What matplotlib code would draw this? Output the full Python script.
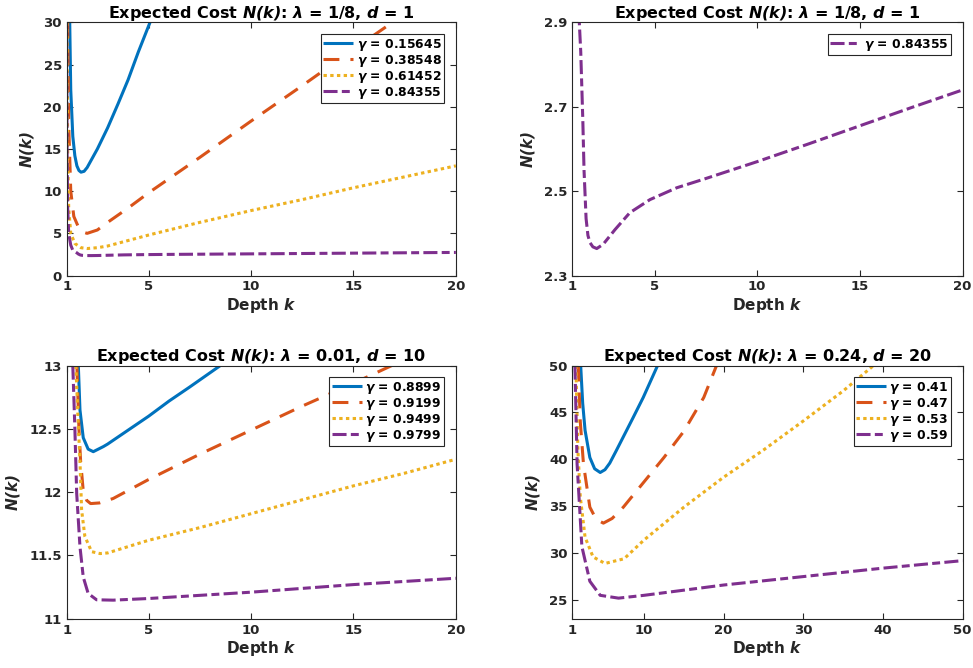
import matplotlib
matplotlib.use("Agg")
import matplotlib.pyplot as plt

plt.rcParams['font.family'] = ['DejaVu Sans']
plt.rcParams['font.weight'] = 'bold'
plt.rcParams['mathtext.fontset'] = 'dejavusans'

# panel A / B: lambda = 1/8, d = 1
a_gammas = ['0.15645', '0.38548', '0.61452', '0.84355']
a_k1 = [1.15, 1.2, 1.3, 1.4, 1.5, 1.6, 1.7, 1.85, 2.0, 2.5, 3.0, 3.5, 4.0, 4.5, 5.07, 5.5]
a_n1 = [30, 22, 16.5, 14.2, 13.0, 12.45, 12.25, 12.35, 12.8, 15.0, 17.5, 20.3, 23.2, 26.5, 30, 33]
a_k2 = [1.05, 1.1, 1.2, 1.35, 1.6, 1.8, 2.0, 2.5, 3.0, 4.0, 5.0, 7.5, 10, 12.5, 15, 17.5, 20]
a_n2 = [30, 18, 10, 7.0, 5.6, 5.15, 5.0, 5.4, 6.3, 8.0, 9.8, 14.0, 18.3, 22.5, 26.8, 31.0, 33.0]
a_k3 = [1.02, 1.05, 1.1, 1.2, 1.4, 1.7, 2.0, 2.5, 3.0, 5.0, 7.5, 10, 12.5, 15, 17.5, 20]
a_n3 = [30, 15, 8, 5.0, 3.8, 3.3, 3.2, 3.3, 3.5, 4.8, 6.3, 7.7, 9.0, 10.4, 11.7, 13.0]
a_k4 = [1.0, 1.02, 1.05, 1.1, 1.2, 1.3, 1.34, 1.41, 1.51, 1.57, 1.67, 1.76, 1.86, 2.0, 2.19,
        2.5, 3.08, 3.8, 4.78, 6.08, 7.5, 10, 12.5, 15, 17.5, 20]
a_n4 = [30, 15, 8, 5, 3.6, 3.0, 2.9, 2.83, 2.67, 2.55, 2.435, 2.395, 2.378, 2.368, 2.364,
        2.374, 2.409, 2.449, 2.48, 2.508, 2.53, 2.57, 2.612, 2.655, 2.698, 2.74]

# panel C: lambda = 0.01, d = 10
c_gammas = ['0.8899', '0.9199', '0.9499', '0.9799']
c_k1 = [1.57, 1.65, 1.81, 2.05, 2.3, 2.79, 3.0, 4.0, 5.0, 6.0, 7.0, 8.5, 9.0]
c_n1 = [13.0, 12.65, 12.43, 12.34, 12.32, 12.36, 12.38, 12.49, 12.6, 12.72, 12.83, 13.0, 13.06]
c_k2 = [1.5, 1.55, 1.6, 1.68, 1.81, 1.98, 2.17, 2.6, 3.27, 5.0, 7.5, 10, 12.5, 15, 17, 20]
c_n2 = [13.0, 12.75, 12.5, 12.25, 12.01, 11.935, 11.91, 11.915, 11.95, 12.1, 12.3, 12.49, 12.68, 12.86, 13.01, 13.22]
c_k3 = [1.45, 1.55, 1.65, 1.73, 1.89, 2.22, 2.63, 3.0, 5.0, 7.5, 10, 12.5, 15, 17.5, 20]
c_n3 = [13.0, 12.6, 12.25, 11.86, 11.65, 11.53, 11.515, 11.52, 11.62, 11.72, 11.83, 11.94, 12.05, 12.15, 12.26]
c_k4 = [1.3, 1.4, 1.49, 1.65, 1.81, 2.05, 2.46, 3.27, 5.0, 7.5, 10, 12.5, 15, 17.5, 20]
c_n4 = [13.0, 12.51, 11.99, 11.57, 11.33, 11.2, 11.15, 11.147, 11.16, 11.185, 11.21, 11.24, 11.27, 11.295, 11.32]

# panel D: lambda = 0.24, d = 20
d_gammas = ['0.41', '0.47', '0.53', '0.59']
d_k1 = [2.05, 2.3, 2.6, 3.2, 3.8, 4.5, 5.1, 5.7, 6.5, 7.4, 8.6, 9.9, 11.7, 12.2]
d_n1 = [50, 46, 43.1, 40.2, 39.0, 38.6, 38.9, 39.6, 40.9, 42.4, 44.4, 46.6, 50, 51]
d_k2 = [1.75, 2.0, 2.4, 3.2, 4.0, 4.9, 6.0, 7.4, 10, 12.5, 15, 17.5, 19.1, 20]
d_n2 = [50, 44, 39.5, 34.9, 33.6, 33.2, 33.7, 34.9, 37.6, 40.2, 43.0, 46.6, 50, 51.5]
d_k3 = [1.45, 1.7, 2.0, 2.6, 3.6, 5.1, 7.5, 10, 15, 20, 25, 30, 35, 38.8, 40]
d_n3 = [50, 41, 36, 31.7, 29.6, 28.9, 29.4, 31.4, 34.9, 38.1, 41.0, 44.1, 47.3, 50, 50.8]
d_k4 = [1.33, 1.6, 2.2, 3.2, 4.5, 6.8, 10, 20, 30, 40, 50]
d_n4 = [50, 39.5, 30.7, 27.0, 25.5, 25.2, 25.5, 26.6, 27.5, 28.4, 29.2]

colors = ['#0072BD', '#D95319', '#EDB120', '#7E2F8E']
dashes = [None, (5.2, 3.6), (1.1, 1.1), (4.6, 1.4, 2.6, 1.4)]
dark = '#262626'
lw = 2.2


def draw(ax, k, n, i):
    l, = ax.plot(k, n, color=colors[i], lw=lw, solid_capstyle='butt', dash_capstyle='butt')
    if dashes[i] is not None:
        l.set_dashes(dashes[i])
    return l


def style_axes(ax, title, xlim, xticks, ylim, yticks, yticklabels=None):
    ax.set_xlim(xlim)
    ax.set_ylim(ylim)
    ax.set_xticks(xticks)
    ax.set_yticks(yticks)
    if yticklabels is not None:
        ax.set_yticklabels(yticklabels)
    ax.tick_params(direction='in', top=True, right=True, labelsize=9.5,
                   colors=dark, length=4, width=0.8)
    for lab in ax.get_xticklabels() + ax.get_yticklabels():
        lab.set_fontweight('bold')
    for s in ax.spines.values():
        s.set_color(dark)
        s.set_linewidth(0.8)
    ax.set_xlabel(r'Depth $\mathbfit{k}$', fontsize=11, fontweight='bold', color=dark, labelpad=2)
    ax.set_ylabel(r'$\mathbfit{N(k)}$', fontsize=11, color=dark, labelpad=5)
    ax.set_title(title, fontsize=11.5, fontweight='bold', pad=3)


def add_legend(ax, lines, labels):
    leg = ax.legend(lines, labels, loc='upper right', fontsize=8.9, frameon=True,
                    fancybox=False, framealpha=1, edgecolor=dark, handlelength=2.4,
                    borderaxespad=0.95, labelspacing=0.0, borderpad=0.2, handletextpad=0.3)
    leg.get_frame().set_linewidth(0.8)
    for t in leg.get_texts():
        t.set_fontweight('bold')


fig = plt.figure(figsize=(9.73, 6.68), dpi=100)
ax1 = fig.add_axes([0.0685, 0.5875, 0.4, 0.379])
ax2 = fig.add_axes([0.5882, 0.5875, 0.4012, 0.379])
ax3 = fig.add_axes([0.0685, 0.0737, 0.4, 0.379])
ax4 = fig.add_axes([0.5882, 0.0737, 0.4012, 0.379])

lines = [draw(ax1, k, n, i) for i, (k, n) in
         enumerate(zip([a_k1, a_k2, a_k3, a_k4], [a_n1, a_n2, a_n3, a_n4]))]
add_legend(ax1, lines, [r'$\gamma$ = ' + g for g in a_gammas])
style_axes(ax1, r'Expected Cost $\mathbfit{N(k)}$: $\lambda$ = 1/8, $\mathbfit{d}$ = 1',
           (1, 20), [1, 5, 10, 15, 20], (0, 30), [0, 5, 10, 15, 20, 25, 30])

l = draw(ax2, a_k4, a_n4, 3)
add_legend(ax2, [l], [r'$\gamma$ = ' + a_gammas[3]])
style_axes(ax2, r'Expected Cost $\mathbfit{N(k)}$: $\lambda$ = 1/8, $\mathbfit{d}$ = 1',
           (1, 20), [1, 5, 10, 15, 20], (2.3, 2.9), [2.3, 2.5, 2.7, 2.9])

lines = [draw(ax3, k, n, i) for i, (k, n) in
         enumerate(zip([c_k1, c_k2, c_k3, c_k4], [c_n1, c_n2, c_n3, c_n4]))]
add_legend(ax3, lines, [r'$\gamma$ = ' + g for g in c_gammas])
style_axes(ax3, r'Expected Cost $\mathbfit{N(k)}$: $\lambda$ = 0.01, $\mathbfit{d}$ = 10',
           (1, 20), [1, 5, 10, 15, 20], (11, 13), [11, 11.5, 12, 12.5, 13],
           ['11', '11.5', '12', '12.5', '13'])

lines = [draw(ax4, k, n, i) for i, (k, n) in
         enumerate(zip([d_k1, d_k2, d_k3, d_k4], [d_n1, d_n2, d_n3, d_n4]))]
add_legend(ax4, lines, [r'$\gamma$ = ' + g for g in d_gammas])
style_axes(ax4, r'Expected Cost $\mathbfit{N(k)}$: $\lambda$ = 0.24, $\mathbfit{d}$ = 20',
           (1, 50), [1, 10, 20, 30, 40, 50], (23, 50), [25, 30, 35, 40, 45, 50])

fig.savefig('out.png', dpi=100)
